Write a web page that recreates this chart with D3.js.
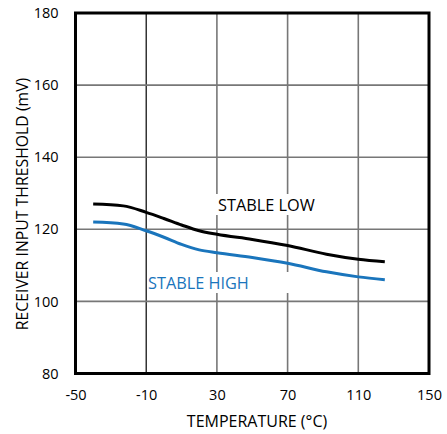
<!DOCTYPE html>
<html>
<head>
<meta charset="utf-8">
<script src="https://cdn.jsdelivr.net/npm/d3@7"></script>
<style>
  html, body { margin: 0; padding: 0; background: #fff; }
  svg { display: block; font-family: "Open Sans", "Noto Sans", sans-serif; }
</style>
</head>
<body>
<svg id="chart" width="447" height="434"></svg>
<script>
// Receiver input threshold vs. temperature
const temperature = [-40, -23, -10, 0, 10, 20, 30, 50, 70, 92, 110, 125];
const stableLow   = [127, 126.5, 124.7, 123.0, 121.2, 119.6, 118.6, 117.2, 115.5, 113.1, 111.7, 111.0];
const stableHigh  = [122, 121.5, 119.6, 117.8, 115.8, 114.3, 113.5, 112.2, 110.6, 108.2, 106.8, 106.0];

const xTicks = [-50, -10, 30, 70, 110, 150];
const yTicks = [80, 100, 120, 140, 160, 180];

const seriesNames = ["STABLE LOW", "STABLE HIGH"];
const seriesColors = ["#000000", "#1a75bc"];

const svg = d3.select("#chart");
const m = { left: 75.5, right: 429, top: 13, bottom: 373.5 };

const x = d3.scaleLinear().domain([-50, 150]).range([m.left, m.right]);
const y = d3.scaleLinear().domain([80, 180]).range([m.bottom, m.top]);

// grid
const grid = svg.append("g");
grid.selectAll("line.v").data(xTicks.slice(1, -1)).join("line")
  .attr("x1", d => x(d)).attr("x2", d => x(d))
  .attr("y1", m.top).attr("y2", m.bottom)
  .attr("stroke", d => d === -10 ? "#000" : "#777")
  .attr("stroke-width", d => d === -10 ? 1.2 : 1.6);
grid.selectAll("line.h").data(yTicks.slice(1, -1)).join("line")
  .attr("x1", m.left).attr("x2", m.right)
  .attr("y1", d => y(d)).attr("y2", d => y(d))
  .attr("stroke", "#777").attr("stroke-width", 1.6);

// label backgrounds
svg.append("rect").attr("x", 215).attr("y", 194).attr("width", 104).attr("height", 21).attr("fill", "#fff");
svg.append("rect").attr("x", 147).attr("y", 272).attr("width", 142).attr("height", 21).attr("fill", "#fff");

// curves
const line = d3.line().curve(d3.curveMonotoneX)
  .x((d, i) => x(temperature[i])).y(d => y(d));
[stableLow, stableHigh].forEach((s, k) => {
  svg.append("path").attr("d", line(s))
    .attr("fill", "none").attr("stroke", seriesColors[k]).attr("stroke-width", 3)
    .attr("stroke-linejoin", "round");
});

// frame
svg.append("rect").attr("x", m.left).attr("y", m.top)
  .attr("width", m.right - m.left).attr("height", m.bottom - m.top)
  .attr("fill", "none").attr("stroke", "#000").attr("stroke-width", 3);

// axes (labels only)
const fmt = d => String(d);
const xAxis = d3.axisBottom(x).tickValues(xTicks).tickSize(0).tickPadding(16).tickFormat(fmt);
const gx = svg.append("g").attr("transform", `translate(0,${m.bottom})`).call(xAxis);
gx.select(".domain").remove();
gx.selectAll("text").attr("font-size", 14.5).attr("fill", "#000")
  .attr("font-family", '"Open Sans", "Noto Sans", sans-serif');

const yAxis = d3.axisLeft(y).tickValues(yTicks).tickSize(0).tickPadding(17).tickFormat(fmt);
const gy = svg.append("g").attr("transform", `translate(${m.left},0)`).call(yAxis);
gy.select(".domain").remove();
gy.selectAll("text").attr("font-size", 14.5).attr("fill", "#000")
  .attr("font-family", '"Open Sans", "Noto Sans", sans-serif');

// titles
svg.append("text").attr("x", 257).attr("y", 427)
  .attr("text-anchor", "middle").attr("font-size", 16).text("TEMPERATURE (°C)");
svg.append("text").attr("transform", `translate(27.5,204) rotate(-90)`)
  .attr("text-anchor", "middle").attr("font-size", 15.8).text("RECEIVER INPUT THRESHOLD (mV)");

// series labels
svg.append("text").attr("x", 218).attr("y", 211).attr("font-size", 16.3)
  .attr("fill", seriesColors[0]).text(seriesNames[0]);
svg.append("text").attr("x", 148).attr("y", 289).attr("font-size", 16.3)
  .attr("fill", seriesColors[1]).text(seriesNames[1]);
</script>
</body>
</html>
